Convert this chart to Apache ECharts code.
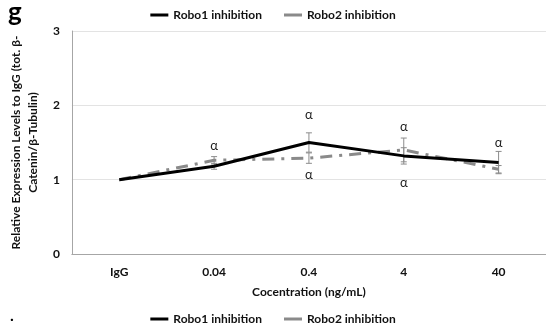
<!DOCTYPE html>
<html><head><meta charset="utf-8">
<script src="https://cdn.jsdelivr.net/npm/echarts@6/dist/echarts.min.js"></script>
<style>html,body{margin:0;padding:0;background:#fff}#c{width:546px;height:328px}</style>
</head><body><div id="c"></div>
<script>
const categories = ['IgG', '0.04', '0.4', '4', '40'];
const robo1 = [1.0, 1.18, 1.50, 1.32, 1.23];
const robo1Err = [0, 0.04, 0.13, 0.11, 0.15];
const robo2 = [1.0, 1.26, 1.29, 1.40, 1.14];
const robo2Err = [0, 0.05, 0.07, 0.16, 0.05];
const alphaAbove = [null, 1.45, 1.87, 1.71, 1.50];
const alphaBelow = [null, null, 1.07, 0.96, null];
const yTicks = [0, 1, 2, 3];

const FONT = 'Lato';
const chart = echarts.init(document.getElementById('c'));

function errSeries(vals, errs, color) {
  return {
    type: 'custom', silent: true, z: 1,
    data: vals.map((v, i) => [i, v, errs[i]]),
    renderItem: function (params, api) {
      const i = api.value(0), v = api.value(1), e = api.value(2);
      if (!e) return null;
      const top = api.coord([i, v + e]);
      const bot = api.coord([i, v - e]);
      const w = 3;
      const st = { stroke: color, lineWidth: 1 };
      return { type: 'group', children: [
        { type: 'line', shape: { x1: top[0], y1: top[1], x2: bot[0], y2: bot[1] }, style: st },
        { type: 'line', shape: { x1: top[0] - w, y1: top[1], x2: top[0] + w, y2: top[1] }, style: st },
        { type: 'line', shape: { x1: bot[0] - w, y1: bot[1], x2: bot[0] + w, y2: bot[1] }, style: st }
      ]};
    }
  };
}

function alphaSeries(vals) {
  return {
    type: 'custom', silent: true, z: 5,
    data: vals.map((v, i) => [i, v == null ? NaN : v]),
    renderItem: function (params, api) {
      const v = api.value(1);
      if (isNaN(v)) return null;
      const p = api.coord([api.value(0), v]);
      return { type: 'text', x: p[0], y: p[1],
        style: { text: 'α', fill: '#222', font: '13px ' + FONT, align: 'center', verticalAlign: 'middle' } };
    }
  };
}

const legendCommon = {
  data: [
    { name: 'Robo1 inhibition' },
    { name: 'Robo2 inhibition' }
  ],
  itemWidth: 18, itemHeight: 3, itemGap: 22,
  textStyle: { fontFamily: FONT, fontWeight: 'bold', fontSize: 12, color: '#111' },
  icon: 'rect'
};

chart.setOption({
  animation: false,
  textStyle: { fontFamily: FONT },
  graphic: [
    { type: 'text', left: 8, top: 0, style: { text: 'g', font: 'bold 26px ' + FONT, fill: '#000' } },
    { type: 'text', left: 10, top: 308, style: { text: '.', font: 'bold 16px ' + FONT, fill: '#000' } }
  ],
  legend: [
    Object.assign({ top: 4, left: 'center' }, legendCommon),
    Object.assign({ top: 308, left: 'center' }, legendCommon)
  ],
  grid: { left: 59, top: 31, width: 494, height: 223 },
  xAxis: {
    type: 'category', data: categories, boundaryGap: true,
    axisLine: { lineStyle: { color: '#a6a6a6', width: 1 } },
    axisTick: { show: false },
    axisLabel: { fontFamily: FONT, fontWeight: 'bold', fontSize: 12, color: '#111', margin: 12 },
    name: 'Cocentration (ng/mL)', nameLocation: 'middle', nameGap: 32,
    nameTextStyle: { fontFamily: FONT, fontWeight: 'bold', fontSize: 12, color: '#111' }
  },
  yAxis: {
    type: 'value', min: yTicks[0], max: yTicks[yTicks.length - 1], interval: 1,
    axisLine: { show: true, lineStyle: { color: '#a6a6a6', width: 1 } },
    axisTick: { show: false },
    splitLine: { lineStyle: { color: '#e3e3e3' } },
    axisLabel: { fontFamily: FONT, fontWeight: 'bold', fontSize: 12, color: '#111', margin: 12 },
    name: 'Relative Expression Levels to IgG (tot. β-\nCatenin/β-Tubulin)',
    nameLocation: 'middle', nameGap: 20, nameRotate: 90,
    nameTextStyle: { fontFamily: FONT, fontWeight: 'bold', fontSize: 12, color: '#111', lineHeight: 17, align: 'center' }
  },
  series: [
    errSeries(robo2, robo2Err, '#8c8c8c'),
    errSeries(robo1, robo1Err, '#8c8c8c'),
    {
      name: 'Robo2 inhibition', type: 'line', data: robo2, symbol: 'none', z: 2,
      lineStyle: { color: '#8a8a8a', width: 3, type: [12, 7, 3, 7] },
      itemStyle: { color: '#8a8a8a' }
    },
    {
      name: 'Robo1 inhibition', type: 'line', data: robo1, symbol: 'none', z: 3,
      lineStyle: { color: '#000', width: 3 },
      itemStyle: { color: '#000' }
    },
    alphaSeries(alphaAbove),
    alphaSeries(alphaBelow)
  ]
});
</script></body></html>
